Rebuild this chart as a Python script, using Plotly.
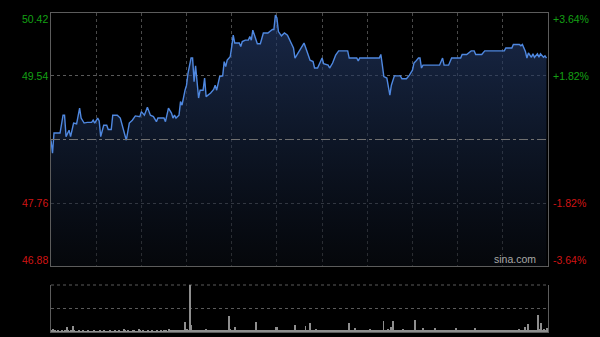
import plotly.graph_objects as go

# ---------------- data ----------------
prev_close = 48.65
minutes = [0, 1, 2, 6, 8, 9, 10, 12, 13, 15, 17, 19, 20, 22, 24, 27, 28, 29, 31, 32,
           33, 34, 35, 37, 38, 40, 41, 44, 46, 50, 52, 54, 56, 59, 60, 62, 64, 66, 68, 70,
           71, 75, 76, 78, 80, 81, 82, 83, 85, 86, 87, 89, 90, 91, 93, 94, 95, 96, 97, 98,
           99, 101, 102, 103, 106, 108, 109, 110, 112, 114, 115, 116, 117, 119, 120, 121, 122, 125, 126, 127,
           129, 131, 132, 133, 134, 137, 139, 141, 144, 147, 148, 149, 150, 151, 153, 155, 157, 159, 161, 162,
           165, 168, 170, 172, 174, 175, 177, 180, 181, 184, 185, 187, 189, 191, 195, 197, 198, 203, 204, 205,
           218, 219, 220, 221, 223, 225, 226, 228, 232, 233, 236, 238, 240, 241, 242, 244, 245, 246, 247, 258,
           260, 261, 264, 266, 272, 273, 276, 279, 281, 282, 286, 288, 301, 302, 306, 307, 311, 312, 313, 315,
           316, 317, 319, 320, 321, 323, 324, 325, 327, 328, 329]
prices = [48.64, 48.46, 48.74, 48.74, 48.99, 48.99, 48.69, 48.78, 48.69, 48.88, 48.87, 49.09, 48.95, 48.88, 48.89, 48.89, 48.92, 48.88, 48.95, 48.91,
          48.69, 48.76, 48.85, 48.85, 48.79, 48.79, 48.99, 48.99, 48.95, 48.64, 48.88, 48.92, 48.98, 48.97, 49.04, 48.99, 49.10, 48.99, 48.97, 48.90,
          48.95, 48.95, 48.90, 49.09, 49.02, 48.95, 48.99, 48.95, 48.99, 49.18, 49.13, 49.34, 49.41, 49.58, 49.79, 49.79, 49.46, 49.68, 49.46, 49.23,
          49.34, 49.34, 49.51, 49.25, 49.30, 49.35, 49.41, 49.34, 49.53, 49.54, 49.74, 49.67, 49.76, 49.81, 49.95, 50.11, 50.00, 50.00, 49.95, 50.02,
          50.04, 50.04, 50.09, 50.04, 50.18, 49.99, 49.99, 50.14, 50.14, 50.19, 50.19, 50.39, 50.35, 50.16, 50.10, 50.14, 50.11, 50.02, 49.93, 49.79,
          49.90, 50.00, 49.88, 49.76, 49.74, 49.65, 49.65, 49.79, 49.71, 49.69, 49.65, 49.72, 49.83, 49.89, 49.89, 49.89, 49.79, 49.79, 49.75, 49.79,
          49.79, 49.84, 49.69, 49.53, 49.51, 49.27, 49.41, 49.54, 49.54, 49.50, 49.50, 49.55, 49.62, 49.72, 49.74, 49.79, 49.79, 49.65, 49.69, 49.69,
          49.79, 49.69, 49.69, 49.79, 49.79, 49.84, 49.84, 49.89, 49.89, 49.84, 49.84, 49.89, 49.89, 49.93, 49.93, 49.98, 49.98, 49.96, 49.98, 49.88,
          49.79, 49.86, 49.80, 49.85, 49.80, 49.85, 49.80, 49.85, 49.80, 49.82, 49.79]

volumes = [3, 6, 3, 2, 3, 2, 2, 3, 2, 3, 11, 3, 2, 3, 13, 3, 2, 2, 3, 2,
           2, 3, 2, 2, 3, 2, 2, 2, 3, 2, 2, 2, 3, 2, 2, 3, 2, 2, 2, 3,
           2, 2, 3, 2, 2, 3, 2, 2, 6, 3, 2, 3, 2, 2, 4, 3, 2, 2, 7, 3,
           2, 3, 2, 2, 3, 2, 2, 3, 2, 2, 3, 2, 2, 3, 2, 3, 3, 2, 7, 3,
           3, 3, 4, 3, 3, 4, 5, 4, 5, 21, 6, 5, 100, 15, 5, 4, 3, 4, 3, 4,
           3, 3, 4, 7, 3, 3, 4, 3, 3, 4, 3, 3, 4, 3, 3, 4, 5, 4, 34, 6,
           4, 3, 11, 3, 3, 4, 3, 5, 3, 3, 4, 3, 3, 3, 4, 3, 21, 4, 3, 3,
           3, 4, 3, 3, 4, 3, 3, 4, 5, 11, 11, 4, 3, 3, 4, 3, 3, 4, 3, 3,
           3, 4, 15, 3, 3, 4, 3, 3, 4, 13, 3, 4, 19, 3, 4, 3, 7, 3, 3, 4,
           3, 3, 4, 3, 3, 4, 5, 3, 3, 4, 3, 3, 3, 4, 3, 3, 4, 5, 19, 4,
           3, 4, 9, 4, 3, 4, 5, 4, 3, 3, 4, 3, 6, 3, 3, 4, 3, 3, 4, 3,
           4, 23, 4, 3, 7, 4, 11, 23, 4, 3, 3, 4, 3, 3, 7, 3, 3, 4, 3, 3,
           3, 4, 26, 4, 3, 3, 4, 9, 3, 3, 4, 3, 3, 4, 3, 9, 3, 3, 4, 3,
           3, 5, 3, 3, 4, 3, 5, 3, 3, 9, 3, 3, 4, 3, 3, 3, 4, 3, 3, 3,
           3, 4, 9, 3, 3, 3, 4, 3, 3, 3, 3, 3, 4, 3, 3, 3, 3, 3, 4, 3,
           3, 3, 4, 4, 3, 4, 3, 3, 4, 3, 4, 6, 4, 3, 5, 11, 4, 17, 4, 5,
           4, 5, 5, 4, 36, 6, 19, 5, 6, 5, 8]
vol_minutes = list(range(len(volumes)))

price_ticks = [50.42, 49.54, 47.76, 46.88]
price_labels = ["50.42", "49.54", "47.76", "46.88"]
pct_labels = ["+3.64%", "+1.82%", "-1.82%", "-3.64%"]
label_colors = ["#14a014", "#14a014", "#d01414", "#d01414"]

# ---------------- figure ----------------
fig = go.Figure()

fig.add_trace(go.Scatter(
    x=minutes, y=prices, mode="lines",
    line=dict(color="#4f88e0", width=1.4),
    fill="tozeroy",
    fillgradient=dict(type="vertical",
                      colorscale=[[0, "rgba(10,14,22,0.5)"], [0.55, "rgba(24,40,70,0.6)"], [1, "rgba(38,62,112,0.65)"]],
                      start=46.88, stop=50.42),
    hoverinfo="skip", showlegend=False, xaxis="x", yaxis="y"))

fig.add_trace(go.Bar(
    x=vol_minutes, y=volumes, marker=dict(color="#8e8e8e", line=dict(width=0)),
    width=0.55, showlegend=False, xaxis="x2", yaxis="y2", hoverinfo="skip"))

border = "#5c5c5c"
grid = "#4a4a4a"
fig.update_layout(
    width=600, height=337,
    margin=dict(l=51, r=52, t=13, b=5),
    paper_bgcolor="#000000", plot_bgcolor="#000000",
    xaxis=dict(domain=[0, 1], range=[0, 330], tick0=0, dtick=30, showgrid=True,
               griddash="dot", gridcolor=grid, gridwidth=1, showticklabels=False, ticks="",
               showline=True, mirror=True, linecolor=border, linewidth=1, zeroline=False, anchor="y"),
    yaxis=dict(domain=[0.2069, 1], range=[46.88, 50.42], tickvals=[47.76, 49.54],
               showgrid=True, griddash="dot", gridcolor="#5a5a5a", showticklabels=False, ticks="",
               showline=True, mirror=True, linecolor=border, linewidth=1, zeroline=False, anchor="x"),
    xaxis2=dict(domain=[0, 1], range=[-0.5, 330.5], showgrid=False, showticklabels=False, ticks="",
                showline=True, mirror=False, linecolor=border, linewidth=1, zeroline=False, anchor="y2"),
    yaxis2=dict(domain=[0, 0.1473], range=[0, 101], tickvals=[50], showgrid=True,
                griddash="dot", gridcolor="#5a5a5a", showticklabels=False, ticks="",
                showline=True, mirror=True, linecolor=border, linewidth=1, zeroline=False, anchor="x2"),
    bargap=0,
    shapes=[dict(type="line", xref="paper", x0=0, x1=1, yref="y", y0=prev_close, y1=prev_close,
                 line=dict(color="#707070", width=1, dash="dashdot"), layer="above"),
            dict(type="line", xref="paper", x0=0, x1=1, yref="y2 domain", y0=1, y1=1,
                 line=dict(color="#5a5a5a", width=1, dash="dot"), layer="below")],
)

font_family = "Liberation Sans, Arial, sans-serif"
shifts = [-6, 0, 0, 6]
for v, lab, pct, col, sh in zip(price_ticks, price_labels, pct_labels, label_colors, shifts):
    fig.add_annotation(x=0, xref="paper", y=v, yref="y", text=lab, showarrow=False,
                       xanchor="right", yanchor="middle", xshift=-1, yshift=sh,
                       font=dict(family=font_family, size=10.5, color=col))
    fig.add_annotation(x=1, xref="paper", y=v, yref="y", text=pct, showarrow=False,
                       xanchor="left", yanchor="middle", xshift=3, yshift=sh,
                       font=dict(family=font_family, size=10.5, color=col))

fig.add_annotation(x=0.98, xref="paper", y=46.88, yref="y", text="sina.com", showarrow=False,
                   xanchor="right", yanchor="bottom", xshift=0, yshift=-1,
                   font=dict(family=font_family, size=10.5, color="#a8a8a8"))

fig.write_html("out.html")
